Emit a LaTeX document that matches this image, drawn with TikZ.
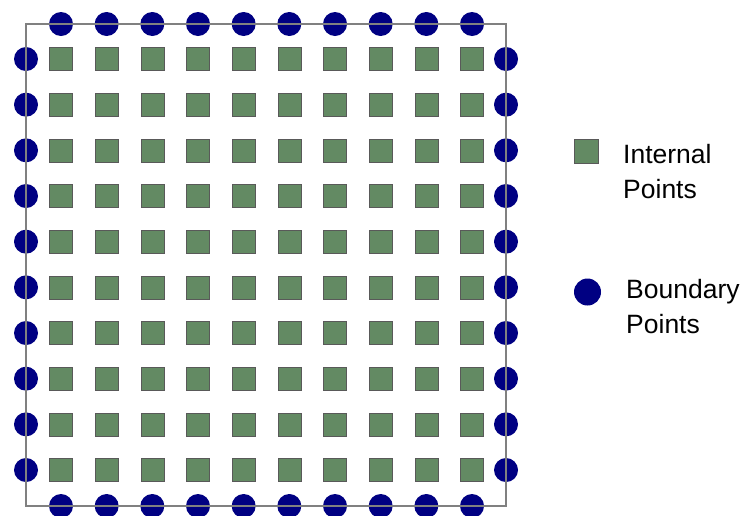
\documentclass[tikz,border=0pt]{standalone}
\usepackage{fontspec}
\setmainfont{Liberation Sans}
\usepackage{tikz}
\usetikzlibrary{calc}
\usetikzlibrary{shapes}
\definecolor{ptgreen}{RGB}{99,138,99}
\definecolor{ptnavy}{RGB}{0,0,130}
\definecolor{framegray}{RGB}{128,128,128}

\begin{document}
\begin{tikzpicture}[x=1pt,y=-1pt,
    internal/.style={rectangle,draw=black!65,line width=0.6pt,fill=ptgreen,minimum size=23pt,inner sep=0pt},
    boundary/.style={circle,fill=ptnavy,minimum size=24pt,inner sep=0pt},
    frame/.style={draw=framegray,line width=1.4pt},
    legtext/.style={anchor=base west,align=left,inner sep=0pt,font=\fontsize{26.5}{35}\selectfont}]
  \useasboundingbox (0,0) rectangle (743,515);
  % boundary points
  \foreach \i in {1,...,10} {
    \node[boundary] (top-\i) at ({61+(\i-1)*45.667},24) {};
    \node[boundary] (bot-\i) at ({61+(\i-1)*45.667},506) {};
    \node[boundary] (lft-\i) at (26,{59+(\i-1)*45.667}) {};
    \node[boundary] (rgt-\i) at (506,{59+(\i-1)*45.667}) {};
  }
  % internal points
  \foreach \i in {1,...,10}
    \foreach \j in {1,...,10}
      \node[internal] (in-\i-\j) at ({61+(\j-1)*45.667},{59+(\i-1)*45.667}) {};
  \coordinate (nw) at (26,24);
  \coordinate (se) at (506,506);
  \draw[frame] (nw) rectangle (se);
  % legend
  \node[internal,minimum size=24pt] (leg-in) at (586,151) {};
  \node[boundary,minimum size=27pt] (leg-bd) at (587.5,292) {};
  \node[legtext] (leg-in-txt) at (623,198) {Internal\\Points};
  \node[legtext] (leg-bd-txt) at (626,333) {Boundary\\Points};
\end{tikzpicture}
\end{document}
